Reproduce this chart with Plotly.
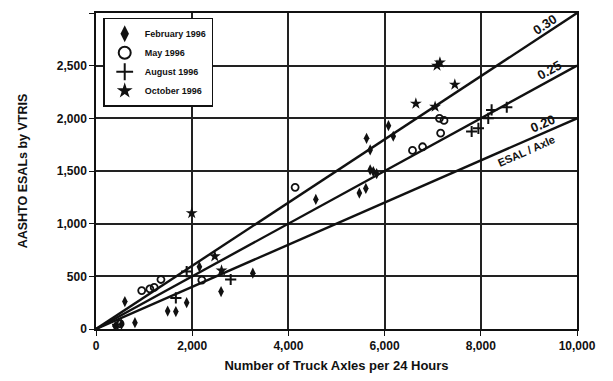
import plotly.graph_objects as go

# ── Data ──────────────────────────────────────────────────────────────────────
feb_x = [400, 530, 600, 810, 1490, 1660, 1885, 2150, 2600, 3260, 4570, 5475, 5610,
         5700, 5765, 5835, 5625, 5700, 6080, 6180]
feb_y = [25, 45, 260, 60, 170, 165, 250, 590, 355, 530, 1230, 1290, 1335,
         1510, 1495, 1475, 1810, 1700, 1930, 1830]

may_x = [500, 950, 1120, 1210, 1350, 2200, 4140, 6580, 6790, 7140, 7235, 7165]
may_y = [50, 365, 380, 395, 470, 465, 1345, 1695, 1730, 2000, 1980, 1860]

aug_x = [450, 1660, 1885, 2800, 7810, 7950, 8155, 8225, 8540]
aug_y = [40, 295, 545, 470, 1875, 1905, 2000, 2080, 2105]

oct_x = [1990, 2470, 2610, 6650, 7050, 7090, 7150, 7460]
oct_y = [1100, 690, 555, 2140, 2110, 2500, 2530, 2320]

ratios = [0.30, 0.25, 0.20]
ratio_labels = ["0.30", "0.25", "0.20"]
x_span = [0, 10000]
y_span = [0, 3000]

_FONT = "Liberation Sans, Arial, sans-serif"
_INK = "#111111"

fig = go.Figure()

# reference lines ESAL / axle
for r in ratios:
    fig.add_trace(go.Scatter(
        x=x_span, y=[r * v for v in x_span], mode="lines",
        line=dict(color=_INK, width=2.4), showlegend=False, hoverinfo="skip",
    ))

series = [
    ("February 1996", feb_x, feb_y, "diamond-tall", 8, 0),
    ("May 1996", may_x, may_y, "circle-open", 7, 1.8),
    ("August 1996", aug_x, aug_y, "cross-thin-open", 8, 2),
    ("October 1996", oct_x, oct_y, "star", 9, 0),
]
for name, xs, ys, sym, size, lw in series:
    fig.add_trace(go.Scatter(
        x=xs, y=ys, mode="markers", name=name,
        marker=dict(symbol=sym, size=size, color=_INK,
                    line=dict(color=_INK, width=lw)),
    ))

# labels on the lines
label_pos = [(9330, 10), (9420, 10), (9290, 10)]
angles = [-33, -29, -24]
for r, lab, (xp, ys), ang in zip(ratios, ratio_labels, label_pos, angles):
    fig.add_annotation(x=xp, y=r * xp, text=lab, showarrow=False, yshift=ys,
                       textangle=ang,
                       font=dict(size=13, color=_INK, family=_FONT, weight="bold"))
fig.add_annotation(x=8950, y=0.20 * 8950, text="ESAL / Axle", showarrow=False,
                   yshift=-11, textangle=-24,
                   font=dict(size=11, color=_INK, family=_FONT, weight="bold"))

axis_common = dict(
    showline=True, linecolor=_INK, linewidth=1.5, mirror=True,
    showgrid=True, gridcolor="#222222", gridwidth=1.5,
    ticks="outside", ticklen=5, tickcolor=_INK,
    tickfont=dict(size=12, color=_INK, family=_FONT, weight="bold"),
    zeroline=False, automargin=False,
)

fig.update_layout(
    xaxis=dict(
        range=x_span, dtick=2000, tickformat=",d",
        title=dict(text="Number of Truck Axles per 24 Hours", standoff=9,
                   font=dict(size=13, color=_INK, family=_FONT, weight="bold")),
        **axis_common,
    ),
    yaxis=dict(
        range=y_span, dtick=500, tickformat=",d",
        title=dict(text="AASHTO ESALs by VTRIS", standoff=26,
                   font=dict(size=12.5, color=_INK, family=_FONT, weight="bold")),
        **axis_common,
    ),
    legend=dict(
        x=0.015, y=0.985, xanchor="left", yanchor="top",
        bgcolor="white", bordercolor=_INK, borderwidth=1.5,
        font=dict(size=9, color=_INK, family=_FONT, weight="bold"),
        tracegroupgap=0, itemsizing="constant", itemwidth=30,
    ),
    paper_bgcolor="white",
    plot_bgcolor="white",
    margin=dict(l=88, r=36, t=5, b=52),
    width=605, height=373,
)

fig.write_html("out.html")
